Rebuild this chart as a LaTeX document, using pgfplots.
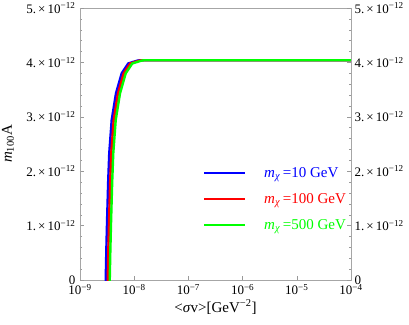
\documentclass[border=0pt]{standalone}
\usepackage{pgfplots}
\pgfplotsset{compat=1.18}
\usepackage{fontspec}
\setmainfont{Liberation Serif}
\definecolor{pblue}{RGB}{0,0,255}
\definecolor{pred}{RGB}{255,0,0}
\definecolor{pgreen}{RGB}{0,255,0}
\pgfplotsset{legend image code/.code={\draw[#1, line width=2pt] (0pt,0pt) -- (41pt,0pt);}}
\begin{document}
\begin{tikzpicture}
\useasboundingbox (-80pt,-44pt) rectangle (329pt,280pt);
\begin{axis}[
  at={(0pt,0pt)}, anchor=south west,
  scale only axis, width=271pt, height=272pt,
  xmode=log, xmin=1e-9, xmax=1e-4, ymin=0, ymax=5e-12,
  scaled y ticks=false,
  axis line style={gray!70},
  tick style={gray!80, line width=0.4pt},
  major tick length=4pt, minor tick length=2pt,
  tick align=inside,
  ytick={0,1e-12,2e-12,3e-12,4e-12,5e-12},
  yticklabels={0,1.\,×\,10\textsuperscript{−12},2.\,×\,10\textsuperscript{−12},3.\,×\,10\textsuperscript{−12},4.\,×\,10\textsuperscript{−12},5.\,×\,10\textsuperscript{−12}},
  minor y tick num=4,
  xminorticks=false,
  tick label style={font=\fontsize{13}{15}\selectfont},
  xtick={1e-9,1e-8,1e-7,1e-6,1e-5,1e-4},
  xticklabels={10\textsuperscript{−9},10\textsuperscript{−8},10\textsuperscript{−7},10\textsuperscript{−6},10\textsuperscript{−5},10\textsuperscript{−4}},
  xtick pos=left,
  xticklabel style={yshift=-1pt},
  yticklabel style={xshift=-1pt},
  xlabel={<\textit{σ}v>[GeV\textsuperscript{−2}]},
  xlabel style={font=\fontsize{15}{17}\selectfont, at={(axis description cs:0.5,0)}, anchor=center, yshift=-27pt},
  ylabel={\textit{m}\textsubscript{100}A},
  ylabel style={font=\fontsize{15}{17}\selectfont, at={(axis description cs:-0.2657,0.5)}, anchor=center},
  legend style={at={(axis description cs:0.454,0.298)}, anchor=west, draw=none, fill=none,
    font=\fontsize{15}{17}\selectfont, row sep=10.5pt, inner sep=0pt},
  legend cell align=left,
  every axis plot/.append style={line width=2.4pt},
]
\addplot[pblue] coordinates {
(2.985e-9,-0.1e-12) (2.985e-9,0) (3.055e-9,0.5e-12) (3.162e-9,1.1e-12) (3.311e-9,1.8e-12) (3.467e-9,2.33e-12)
(3.846e-9,2.94e-12) (4.613e-9,3.43e-12) (5.888e-9,3.80e-12) (7.762e-9,3.98e-12)
(1.122e-8,4.03e-12) (1.288e-8,4.04e-12) (1e-4,4.04e-12)};
\addlegendentry{\hspace{16pt}\textcolor{pblue}{\textit{m}\textsubscript{\textit{χ}}\,=10 GeV}}
\addplot[pred] coordinates {
(3.251e-9,-0.1e-12) (3.251e-9,0) (3.327e-9,0.5e-12) (3.443e-9,1.1e-12) (3.606e-9,1.8e-12) (3.776e-9,2.33e-12)
(4.188e-9,2.94e-12) (5.024e-9,3.43e-12) (6.412e-9,3.80e-12) (8.453e-9,3.98e-12)
(1.222e-8,4.03e-12) (1.403e-8,4.04e-12) (1e-4,4.04e-12)};
\addlegendentry{\hspace{16pt}\textcolor{pred}{\textit{m}\textsubscript{\textit{χ}}\,=100 GeV}}
\addplot[pgreen] coordinates {
(3.540e-9,-0.1e-12) (3.540e-9,0) (3.623e-9,0.5e-12) (3.750e-9,1.1e-12) (3.927e-9,1.8e-12) (4.112e-9,2.33e-12)
(4.561e-9,2.94e-12) (5.471e-9,3.43e-12) (6.983e-9,3.80e-12) (9.206e-9,3.98e-12)
(1.331e-8,4.03e-12) (1.528e-8,4.04e-12) (1e-4,4.04e-12)};
\addlegendentry{\hspace{16pt}\textcolor{pgreen}{\textit{m}\textsubscript{\textit{χ}}\,=500 GeV}}
\end{axis}
\begin{axis}[
  at={(0pt,0pt)}, anchor=south west,
  scale only axis, width=271pt, height=272pt,
  xmin=1e-9, xmax=1e-4, ymin=0, ymax=5e-12,
  hide x axis,
  scaled y ticks=false,
  axis line style={gray!70},
  tick style={gray!80, line width=0.4pt},
  major tick length=4pt, minor tick length=2pt,
  tick align=inside,
  ytick={0,1e-12,2e-12,3e-12,4e-12,5e-12},
  yticklabels={0,1.\,×\,10\textsuperscript{−12},2.\,×\,10\textsuperscript{−12},3.\,×\,10\textsuperscript{−12},4.\,×\,10\textsuperscript{−12},5.\,×\,10\textsuperscript{−12}},
  minor y tick num=4,
  tick label style={font=\fontsize{13}{15}\selectfont},
  yticklabel pos=right, yticklabel style={xshift=0pt},
]
\addplot[draw=none] coordinates {(1e-8,4.04e-12) (1e-4,4.04e-12)};
\end{axis}
\end{tikzpicture}
\end{document}
